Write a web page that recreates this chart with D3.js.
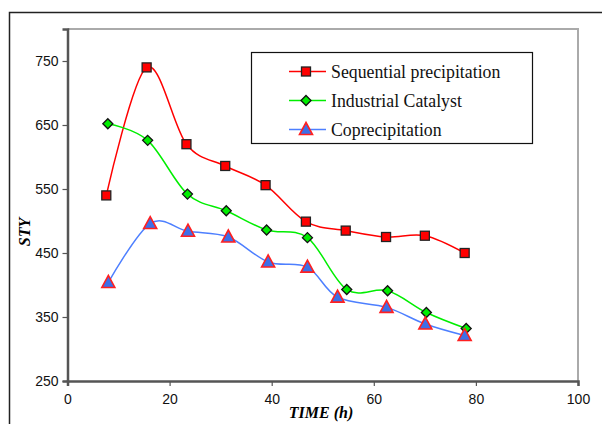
<!DOCTYPE html>
<html>
  <head>
    <meta http-equiv="content-type" content="text/html; charset=utf-8" />
    <title>STY vs time</title>
    <script type="text/javascript" src="https://cdn.jsdelivr.net/npm/d3@7"></script>
  </head>
  <body style="margin:0;background:#fff">
    <script type="text/javascript">
// values
var seqTime = [7.6, 15.5, 23.3, 30.9, 38.8, 46.7, 54.5, 62.4, 70.0, 77.8];
var seqSty  = [540, 740, 620, 586, 556, 499, 485, 475, 477, 450];

var indTime = [7.9, 15.7, 23.5, 31.1, 39.0, 47.0, 54.7, 62.7, 70.3, 78.1];
var indSty  = [652, 626, 542, 516, 486, 474, 393, 391, 357, 332];

var copTime = [8.0, 16.2, 23.6, 31.5, 39.3, 47.0, 52.9, 62.5, 70.1, 77.8];
var copSty  = [404, 496, 484, 475, 436, 428, 381, 365, 339, 321];

var xTicks = [0, 20, 40, 60, 80, 100];
var yTicks = [250, 350, 450, 550, 650, 750];
var seriesNames = ["Sequential precipitation", "Industrial Catalyst", "Coprecipitation"];

var w = 602, h = 424;
// plot box (note: "top" is reserved on window, so use pTop etc.)
var pLeft = 67.5, pRight = 578, pTop = 29, pBottom = 381;
var serif = "'Liberation Serif', 'Times New Roman', Times, serif";
var sans = "'Liberation Sans', Arial, sans-serif";

var svg = d3.select("body").append("svg")
    .attr("width", w)
    .attr("height", h);

// outer chart frame (runs off the right / bottom edge)
svg.append("rect")
    .attr("x", 9.5).attr("y", 12.5)
    .attr("width", 620).attr("height", 440)
    .attr("fill", "none").attr("stroke", "#222").attr("stroke-width", 1.5);

var x = d3.scaleLinear().domain([0, 100]).range([pLeft, pRight]);
var y = d3.scaleLinear().domain([250, 800]).range([pBottom, pTop]);

// plot area border: light top/right
svg.append("path")
    .attr("d", "M" + pLeft + "," + pTop + "H" + pRight + "V" + pBottom)
    .attr("fill", "none").attr("stroke", "#aaa").attr("stroke-width", 2);

var xAxis = svg.append("g")
    .attr("transform", "translate(0," + pBottom + ")")
    .call(d3.axisBottom(x).tickValues(xTicks).tickSize(5).tickPadding(8));
var yAxis = svg.append("g")
    .attr("transform", "translate(" + pLeft + ",0)")
    .call(d3.axisLeft(y).tickValues(yTicks).tickSize(5).tickPadding(4));

[xAxis, yAxis].forEach(function(a) {
  a.select(".domain").attr("stroke", "#555").attr("stroke-width", 2.5);
  a.selectAll(".tick line").attr("stroke", "#555").attr("stroke-width", 1.2);
  a.selectAll("text")
    .style("font-family", sans)
    .style("font-size", "14px")
    .attr("fill", "#111");
});

svg.append("text")
    .attr("x", 321).attr("y", 418)
    .attr("text-anchor", "middle")
    .style("font-family", serif)
    .style("font-weight", "bold").style("font-style", "italic")
    .style("font-size", "16px")
    .text("TIME (h)");

svg.append("text")
    .attr("transform", "translate(30,232) rotate(-90)")
    .attr("text-anchor", "middle")
    .style("font-family", serif)
    .style("font-weight", "bold").style("font-style", "italic")
    .style("font-size", "16px")
    .text("STY");

var series = [
  { name: seriesNames[0], t: seqTime, v: seqSty, line: "#ff0000", shape: "square" },
  { name: seriesNames[1], t: indTime, v: indSty, line: "#00ee00", shape: "diamond" },
  { name: seriesNames[2], t: copTime, v: copSty, line: "#4d7fff", shape: "triangle" }
];

var line = d3.line()
    .x(function(d) { return x(d[0]); })
    .y(function(d) { return y(d[1]); })
    .curve(d3.curveCardinal.tension(0));

function drawMarker(g, shape, cx, cy) {
  if (shape == "square") {
    g.append("rect")
      .attr("x", cx - 4.5).attr("y", cy - 4.5).attr("width", 9).attr("height", 9)
      .attr("fill", "#ff0000").attr("stroke", "#222").attr("stroke-width", 1.3);
  } else if (shape == "diamond") {
    g.append("path")
      .attr("d", "M" + cx + "," + (cy - 5) + "L" + (cx + 5) + "," + cy + "L" + cx + "," + (cy + 5) + "L" + (cx - 5) + "," + cy + "Z")
      .attr("fill", "#00ee00").attr("stroke", "#111").attr("stroke-width", 1.3);
  } else {
    g.append("path")
      .attr("d", "M" + cx + "," + (cy - 7) + "L" + (cx + 6.5) + "," + (cy + 5) + "L" + (cx - 6.5) + "," + (cy + 5) + "Z")
      .attr("fill", "#3d6fe8").attr("stroke", "#ff2020").attr("stroke-width", 1.6)
      .attr("stroke-linejoin", "miter");
  }
}

series.forEach(function(s) {
  var pts = s.t.map(function(t, i) { return [t, s.v[i]]; });
  svg.append("path")
    .datum(pts)
    .attr("d", line)
    .attr("fill", "none")
    .attr("stroke", s.line)
    .attr("stroke-width", 1.5);
  var g = svg.append("g");
  pts.forEach(function(p) { drawMarker(g, s.shape, x(p[0]), y(p[1])); });
});

// legend
svg.append("rect")
    .attr("x", 251.5).attr("y", 52.5)
    .attr("width", 281).attr("height", 91)
    .attr("fill", "#fff").attr("stroke", "#111").attr("stroke-width", 1.2);

series.forEach(function(s, i) {
  var ly = 71.5 + i * 29;
  svg.append("line")
    .attr("x1", 289).attr("x2", 326).attr("y1", ly).attr("y2", ly)
    .attr("stroke", s.line).attr("stroke-width", 1.5);
  drawMarker(svg.append("g"), s.shape, 306, ly);
  svg.append("text")
    .attr("x", 331).attr("y", ly + 6)
    .style("font-family", serif)
    .style("font-size", "17.8px")
    .attr("fill", "#111")
    .text(s.name);
});
    </script>
  </body>
</html>
